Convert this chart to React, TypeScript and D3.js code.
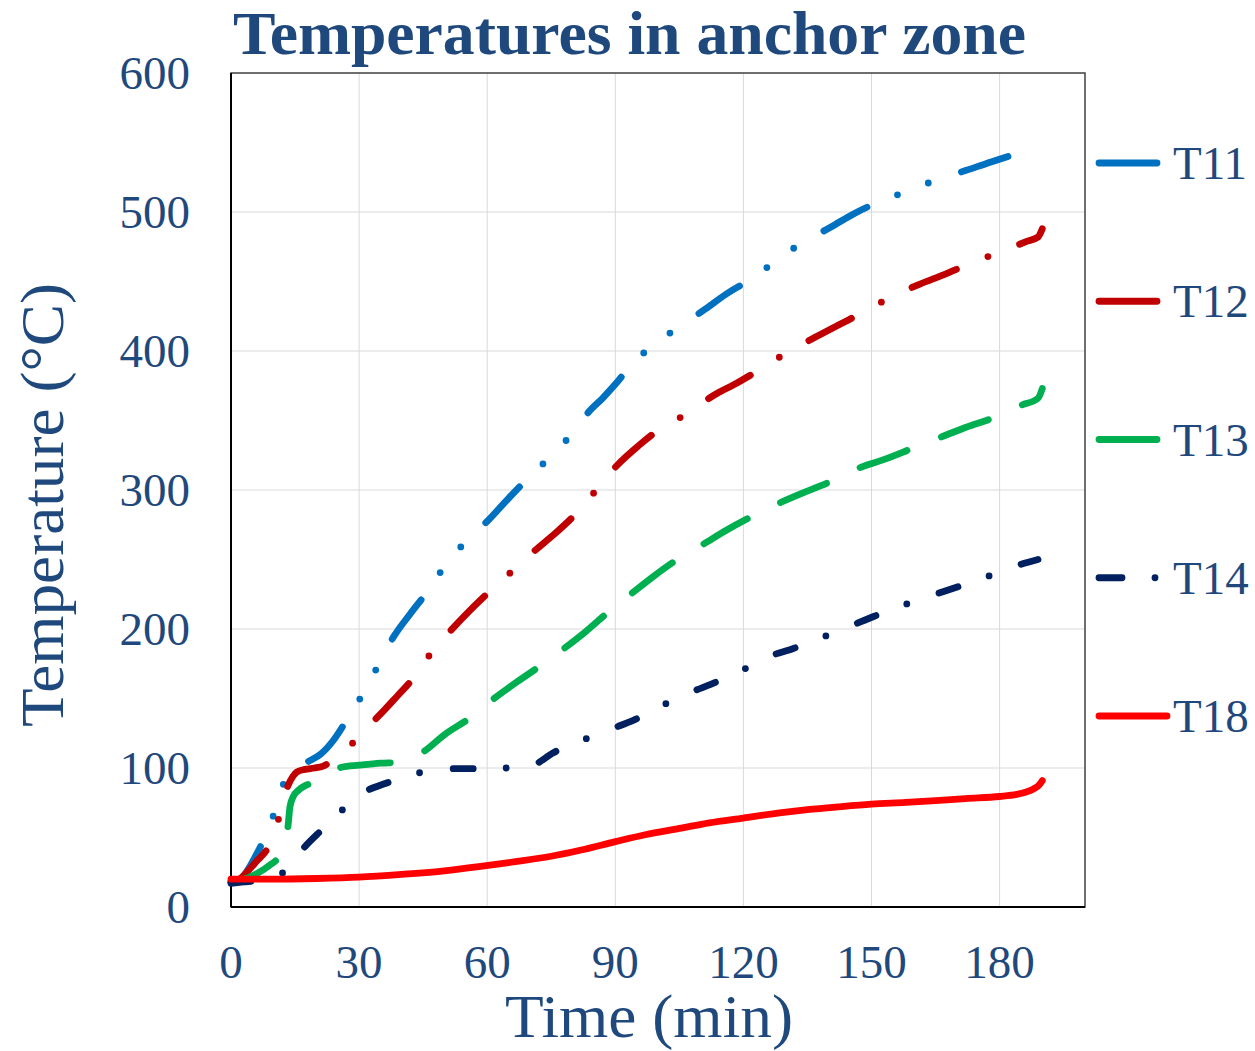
import React from "react";
import * as d3 from "d3";

type Pt = [number, number];

const T11: Pt[] = [[0,18],[2,19],[4,27],[6,38],[7.6,48],[10.3,69],[12.5,90],[15,98],[18,104.5],[21,110],[24,120],[27,134],[31,154],[34.5,174],[38,194],[42,211],[46,227],[50,245],[55,263],[60.5,279],[65,294],[69.4,308],[74.8,324],[80,341],[84,357],[87,366],[90,376],[93.5,389],[98.7,404],[104.8,417],[111,430],[116,441],[121.9,452],[127.7,465],[133.8,478],[140.4,489],[146,499],[151.6,507],[158.4,515],[165.2,523],[172.2,530],[178,536],[184.2,542]];

const T12: Pt[] = [[0,18],[2,20],[4,26],[6,33],[8.7,43],[11.3,65],[13.3,87],[14.5,94],[15.4,97],[17.3,99],[19.5,100],[21.6,101.4],[24.5,107],[27.7,115],[30,124],[32.8,132],[36,142],[39,152],[41.7,161],[46.2,180],[50.9,197],[55.5,212],[60.2,226],[65.6,241],[71,256],[76,269],[80.8,283],[85.8,301],[90.5,318],[95.5,332],[100.5,344],[106.8,355],[113,368],[118.5,377],[124,387],[130.3,399],[136.9,410],[142.5,419],[148.1,428],[154.7,439],[161.2,448],[167,455],[173.2,463],[179.8,471],[186.5,479],[189,482],[190,488]];

const T13: Pt[] = [[0,18],[3,20],[6,24],[9,30],[11.1,36],[13.3,57],[13.8,72],[14.5,79],[15.8,84],[17.5,87.5],[19.7,89.5],[22.5,95],[25.9,100.5],[30,102],[35,103.5],[39,104],[42,107],[45.2,112],[50,124],[55.5,135],[61.6,150],[67,162],[72.2,173],[78,186],[83,198],[88.3,212],[94,226],[99,238],[104.5,250],[110.6,261],[116,271],[122,281],[128.7,291],[134,298],[140.4,306],[147.2,316],[153,322],[159.6,330],[166.2,338],[172,345],[178.6,352],[185.1,361],[189,366],[190,373]];

const T14: Pt[] = [[0,17],[3,18],[6,19],[9,21],[12.7,26],[15,35],[17.3,43.4],[21.1,55],[23.5,62],[25.9,69.3],[28.5,77],[31.4,83],[36.3,89],[40,93],[43.4,96],[47,98.5],[50.4,99.5],[56.2,99.5],[63.5,100],[68,100],[70.8,102],[75.5,111],[82.3,120],[89,128],[94.7,135],[101,145],[107.3,154],[113,161],[119.5,170],[125.8,180],[131.7,186],[138.5,194],[145,202],[150.5,209],[157.3,217],[164,224],[169.9,230],[176.5,237],[183.3,245],[189,250]];

const T18: Pt[] = [[0,20],[10,20],[20,20.5],[30,21.5],[40,23.5],[50,26],[58,29],[65,32],[75,36.5],[82,41],[90,47],[97,52],[105,56.5],[112,60.5],[120,64],[128,67.5],[135,70],[142,72],[150,74],[158,75.2],[165,76.5],[172,78],[180,79.5],[184,81],[186,82.5],[188,85],[189.3,88],[190,91]];

const seriesNames = ["T11", "T12", "T13", "T14", "T18"];
const seriesData: Pt[][] = [T11, T12, T13, T14, T18];
const seriesColors = ["#0070C0", "#C00000", "#00B050", "#002060", "#FF0000"];
const seriesDash = ["49 33 0 33 0 35", "48 34 0 34", "50 37", "20 33 0 34", ""];

const xTicks = [0, 30, 60, 90, 120, 150, 180];
const yTicks = [0, 100, 200, 300, 400, 500, 600];

const TEXT = "#1F497D";
const FONT = "'Liberation Serif', 'Times New Roman', serif";

export default function App() {
  const W = 1255, H = 1051;
  const x = d3.scaleLinear().domain([0, 200]).range([231, 1085]);
  const y = d3.scaleLinear().domain([0, 600]).range([907, 73]);
  const line = d3.line<Pt>().x(d => x(d[0])).y(d => y(d[1])).curve(d3.curveMonotoneX);
  const legY0 = 163, legStep = 138.25;
  const SW = 6.8;

  return (
    <svg width={W} height={H} style={{ position: "absolute", left: 0, top: 0, background: "#fff" }} fontFamily={FONT}>
      <rect x={0} y={0} width={W} height={H} fill="#fff" />
      {yTicks.filter(t => t > 0 && t < 600).map(t => (
        <line key={"gy" + t} x1={x(0)} x2={x(200)} y1={y(t)} y2={y(t)} stroke="#D9D9D9" strokeWidth={1} />
      ))}
      {xTicks.filter(t => t > 0).map(t => (
        <line key={"gx" + t} x1={x(t)} x2={x(t)} y1={y(0)} y2={y(600)} stroke="#D9D9D9" strokeWidth={1} />
      ))}
      <rect x={x(0)} y={y(600)} width={x(200) - x(0)} height={y(0) - y(600)} fill="none" stroke="#404040" strokeWidth={1.5} />
      <line x1={x(0)} x2={x(200)} y1={y(0)} y2={y(0)} stroke="#000" strokeWidth={2} />
      <line x1={x(0)} x2={x(0)} y1={y(0)} y2={y(600)} stroke="#000" strokeWidth={2} />
      {seriesData.map((d, i) => (
        <path key={seriesNames[i]} d={line(d) || ""} fill="none" stroke={seriesColors[i]} strokeWidth={SW}
          strokeLinecap="round" strokeLinejoin="round" strokeDasharray={seriesDash[i] || undefined} />
      ))}
      {yTicks.map(t => (
        <text key={"yl" + t} x={190} y={y(t) + 16} textAnchor="end" fontSize={47} fill={TEXT}>{t}</text>
      ))}
      {xTicks.map(t => (
        <text key={"xl" + t} x={x(t)} y={978} textAnchor="middle" fontSize={47} fill={TEXT}>{t}</text>
      ))}
      <text x={649} y={1037} textAnchor="middle" fontSize={61} fill={TEXT} textLength={288} lengthAdjust="spacingAndGlyphs">Time (min)</text>
      <text transform={`translate(63,505) rotate(-90)`} textAnchor="middle" fontSize={62} fill={TEXT} textLength={444} lengthAdjust="spacingAndGlyphs">Temperature (°C)</text>
      <text x={629.5} y={54} textAnchor="middle" fontSize={62} fontWeight="bold" fill={TEXT} textLength={793} lengthAdjust="spacingAndGlyphs">Temperatures in anchor zone</text>
      {seriesNames.map((n, i) => {
        const ly = legY0 + i * legStep;
        let mark;
        if (n === "T14") {
          mark = (
            <g>
              <line x1={1099} x2={1122} y1={ly} y2={ly} stroke={seriesColors[i]} strokeWidth={SW} strokeLinecap="round" />
              <circle cx={1155} cy={ly} r={SW / 2} fill={seriesColors[i]} />
            </g>
          );
        } else {
          const x2 = n === "T18" ? 1167 : 1157;
          mark = <line x1={1099} x2={x2} y1={ly} y2={ly} stroke={seriesColors[i]} strokeWidth={SW} strokeLinecap="round" />;
        }
        return (
          <g key={"lg" + n}>
            {mark}
            <text x={1173} y={ly + 16} fontSize={47} fill={TEXT}>{n}</text>
          </g>
        );
      })}
    </svg>
  );
}
